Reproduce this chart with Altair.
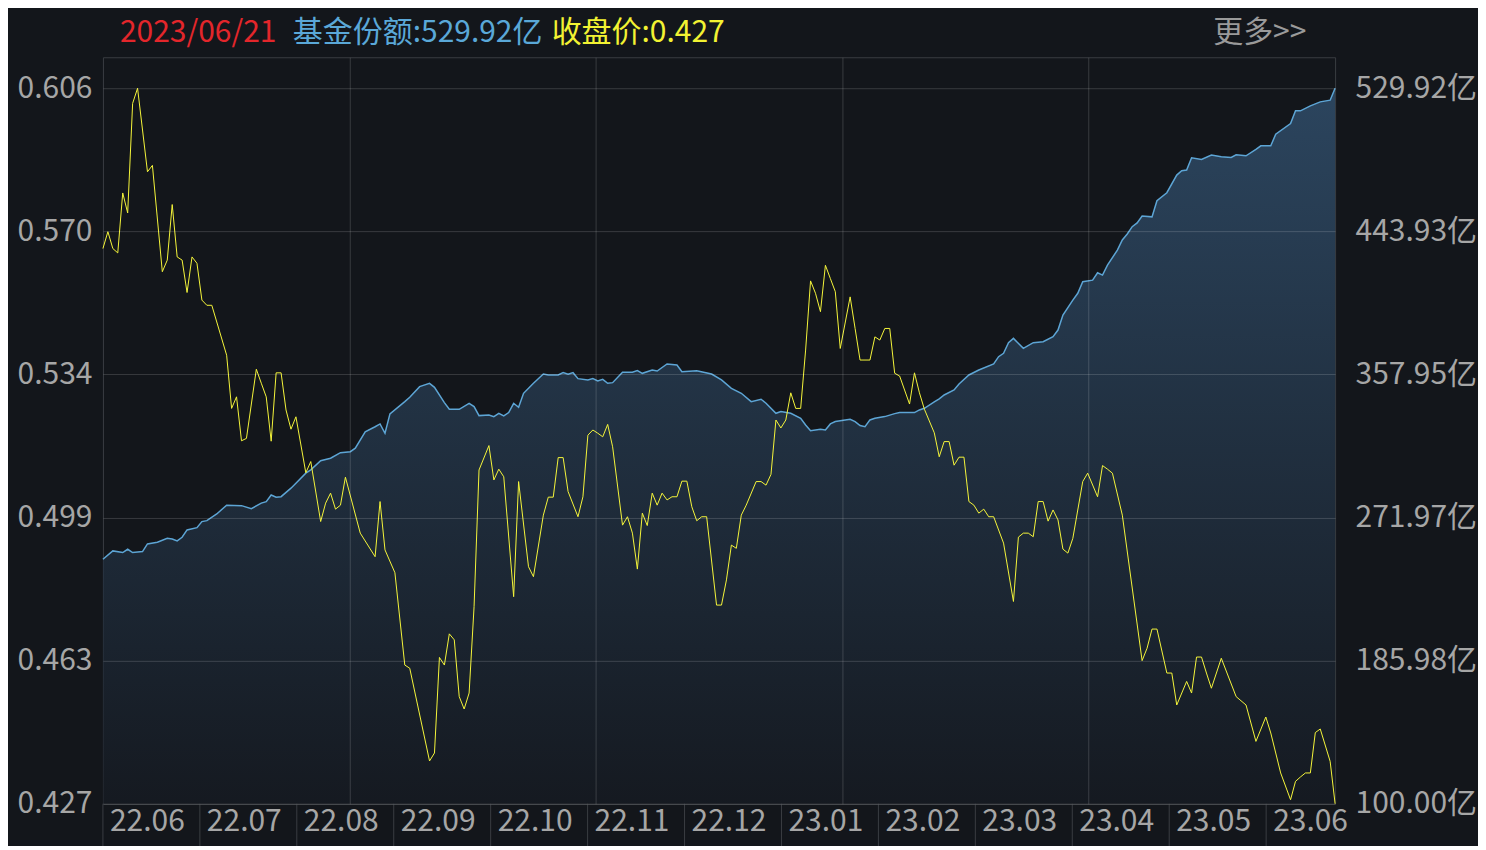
import altair as alt
import pandas as pd

# ---------------- data ----------------
price_day = [0, 1, 2, 3, 4, 5, 6, 7, 9, 10, 12, 13, 14, 15, 16, 17, 18, 19, 20, 21,
             22, 25, 26, 27, 28, 29, 31, 32, 33, 34, 35, 36, 37, 38, 39, 41, 42, 44, 45, 46,
             47, 48, 49, 52, 55, 56, 57, 59, 61, 62, 66, 67, 68, 69, 70, 71, 72, 73, 74, 75,
             76, 78, 79, 80, 81, 83, 84, 86, 87, 89, 90, 91, 92, 93, 94, 96, 97, 98, 99, 100,
             101, 102, 103, 105, 106, 107, 108, 109, 110, 111, 112, 113, 114, 115, 116, 117, 118, 119, 120, 121,
             122, 124, 125, 126, 127, 128, 129, 130, 132, 133, 134, 135, 136, 137, 138, 139, 140, 141, 142, 143,
             144, 145, 146, 147, 148, 149, 151, 152, 153, 155, 156, 157, 158, 159, 160, 161, 163, 164, 165, 166,
             168, 169, 170, 171, 172, 173, 174, 175, 176, 177, 178, 179, 180, 182, 184, 185, 186, 187, 188, 189,
             190, 191, 192, 193, 194, 195, 196, 198, 199, 201, 202, 203, 204, 206, 210, 211, 212, 213, 215, 216,
             217, 219, 220, 221, 222, 223, 224, 226, 229, 231, 233, 235, 236, 238, 240, 241, 242, 243, 244, 245,
             246, 248, 249]
price_val = [0.5659, 0.5701, 0.5659, 0.5648, 0.5798, 0.5748, 0.6022, 0.6060, 0.5851, 0.5867,
             0.5601, 0.5630, 0.5769, 0.5638, 0.5630, 0.5549, 0.5638, 0.5622, 0.5530, 0.5517,
             0.5517, 0.5392, 0.5259, 0.5288, 0.5178, 0.5184, 0.5357, 0.5322, 0.5288, 0.5177,
             0.5348, 0.5348, 0.5255, 0.5207, 0.5238, 0.5098, 0.5126, 0.4976, 0.5022, 0.5047,
             0.5007, 0.5017, 0.5087, 0.4947, 0.4888, 0.5026, 0.4905, 0.4848, 0.4617, 0.4609,
             0.4377, 0.4397, 0.4636, 0.4617, 0.4695, 0.4680, 0.4538, 0.4507, 0.4547, 0.4763,
             0.5105, 0.5166, 0.5080, 0.5107, 0.5088, 0.4788, 0.5076, 0.4863, 0.4838, 0.4992,
             0.5037, 0.5037, 0.5136, 0.5136, 0.5051, 0.4988, 0.5038, 0.5192, 0.5205, 0.5197,
             0.5188, 0.5219, 0.5163, 0.4967, 0.4988, 0.4947, 0.4857, 0.4997, 0.4966, 0.5047,
             0.5017, 0.5047, 0.5030, 0.5038, 0.5038, 0.5077, 0.5077, 0.5013, 0.4978, 0.4988,
             0.4988, 0.4767, 0.4767, 0.4830, 0.4917, 0.4909, 0.4992, 0.5017, 0.5076, 0.5076,
             0.5067, 0.5094, 0.5230, 0.5210, 0.5230, 0.5298, 0.5259, 0.5259, 0.5405, 0.5578,
             0.5547, 0.5501, 0.5617, 0.5584, 0.5551, 0.5409, 0.5538, 0.5459, 0.5380, 0.5380,
             0.5438, 0.5430, 0.5459, 0.5459, 0.5347, 0.5340, 0.5270, 0.5348, 0.5298, 0.5257,
             0.5198, 0.5138, 0.5176, 0.5176, 0.5117, 0.5137, 0.5137, 0.5026, 0.5017, 0.4997,
             0.5007, 0.4988, 0.4988, 0.4922, 0.4776, 0.4937, 0.4947, 0.4947, 0.4938, 0.5026,
             0.5026, 0.4977, 0.5005, 0.4980, 0.4907, 0.4897, 0.4934, 0.5076, 0.5097, 0.5038,
             0.5116, 0.5107, 0.5097, 0.4992, 0.4628, 0.4659, 0.4707, 0.4707, 0.4597, 0.4597,
             0.4517, 0.4576, 0.4547, 0.4637, 0.4637, 0.4597, 0.4559, 0.4634, 0.4538, 0.4517,
             0.4426, 0.4487, 0.4447, 0.4347, 0.4280, 0.4326, 0.4337, 0.4347, 0.4347, 0.4448,
             0.4457, 0.4376, 0.4270]

share_day = [0, 2, 4, 5, 6, 8, 9, 11, 13, 14, 15, 16, 17, 19, 20, 21, 23, 25, 28, 30,
             32, 33, 34, 35, 36, 38, 39, 41, 42, 44, 46, 48, 50, 51, 53, 55, 56, 57, 58, 61,
             62, 64, 66, 67, 69, 70, 72, 74, 75, 76, 78, 79, 80, 81, 82, 83, 84, 85, 87, 89,
             90, 92, 93, 94, 95, 96, 98, 99, 100, 101, 102, 103, 105, 107, 108, 109, 111, 112, 114, 116,
             117, 120, 123, 125, 127, 129, 131, 133, 134, 136, 137, 139, 141, 142, 143, 145, 146, 147, 148, 150,
             151, 152, 153, 154, 155, 156, 158, 160, 161, 164, 165, 166, 168, 169, 170, 172, 173, 175, 177, 180,
             181, 182, 183, 184, 186, 188, 190, 192, 193, 194, 196, 197, 198, 200, 201, 202, 203, 205, 206, 207,
             208, 209, 210, 212, 213, 215, 217, 218, 219, 220, 222, 224, 226, 228, 229, 231, 233, 234, 236, 237,
             240, 241, 242, 244, 246, 248, 249]
share_val = [246.9, 251.9, 250.9, 252.9, 250.9, 251.5, 256.1, 257.1, 259.5, 259.1,
             257.9, 260.1, 264.5, 265.9, 269.5, 270.1, 274.1, 279.4, 279.1, 277.3,
             280.6, 281.5, 285.5, 284.2, 284.5, 289.6, 292.6, 298.6, 300.6, 306.1,
             307.6, 310.9, 311.5, 313.6, 323.5, 326.5, 328.2, 322.6, 334.2, 341.6,
             344.2, 350.6, 352.6, 350.2, 341.0, 337.0, 337.0, 340.6, 338.6, 333.2,
             333.6, 332.6, 334.6, 333.0, 335.0, 340.6, 338.2, 346.6, 352.6, 358.2,
             357.6, 357.6, 359.0, 358.0, 359.0, 355.4, 354.6, 355.4, 354.0, 355.0,
             352.6, 353.0, 359.2, 359.2, 360.2, 358.6, 360.6, 360.0, 364.2, 363.6,
             359.6, 360.2, 358.2, 354.6, 349.6, 346.6, 341.6, 343.0, 340.6, 334.6,
             335.6, 334.6, 331.6, 327.6, 324.1, 325.0, 324.6, 328.2, 329.6, 330.6,
             331.0, 329.6, 327.2, 326.5, 330.6, 331.6, 332.6, 334.4, 335.0, 335.0,
             336.6, 337.6, 341.4, 343.2, 345.6, 348.6, 352.2, 357.6, 360.6, 364.2,
             368.6, 370.6, 377.0, 379.6, 373.6, 377.0, 377.6, 380.6, 384.6, 393.6,
             402.6, 406.7, 413.6, 414.6, 419.0, 417.6, 423.6, 432.6, 438.7, 442.3,
             446.7, 449.0, 453.1, 452.6, 462.3, 467.1, 477.7, 480.3, 480.7, 488.1,
             487.1, 489.7, 488.7, 488.3, 489.9, 489.3, 493.1, 495.3, 495.3, 502.3,
             508.7, 516.3, 516.3, 519.3, 521.7, 522.7, 529.92]

month_labels = ["22.06", "22.07", "22.08", "22.09", "22.10", "22.11", "22.12",
                "23.01", "23.02", "23.03", "23.04", "23.05", "23.06"]
price_ticks = [0.427, 0.4628, 0.4986, 0.5344, 0.5702, 0.606]
share_ticks = [100.00, 185.98, 271.97, 357.95, 443.93, 529.92]
header_texts = ["2023/06/21", "基金份额:529.92亿", "收盘价:0.427", "更多>>"]

# ---------------- layout / style ----------------
W, H = 1233, 747
FONT = "Noto Sans CJK SC"
FS = 30
BG = "#13161b"
GRID = "#3a3d42"
LABEL = "#a6a6a6"
N_DAYS = 250
header_x = [17, 190, 449, 1111]
header_colors = ["#e3262b", "#5aa8d8", "#f2f232", "#9a9a9a"]

price_df = pd.DataFrame({"day": price_day, "price": price_val})
share_df = pd.DataFrame({"day": share_day, "share": share_val})
month_df = pd.DataFrame({"i": list(range(len(month_labels))), "lab": month_labels})

x_scale = alt.Scale(domain=[0, N_DAYS - 1], nice=False, zero=False)

area = alt.Chart(share_df).mark_area(
    color=alt.Gradient(
        gradient="linear",
        stops=[alt.GradientStop(color="#36597b", offset=0),
               alt.GradientStop(color="#161b23", offset=1)],
        x1=1, x2=1, y1=0, y2=1),
    line={"color": "#5da5d5", "strokeWidth": 1.5},
).encode(
    x=alt.X("day:Q", scale=x_scale,
            axis=alt.Axis(values=[(N_DAYS - 1) * k / 5 for k in range(1, 5)], grid=True,
                          labels=False, ticks=False, domain=False, title=None,
                          gridColor="#ffffff", gridOpacity=0.16, zindex=1)),
    y=alt.Y("share:Q", scale=alt.Scale(domain=[100, 548.5], nice=False, zero=False),
            axis=alt.Axis(orient="right", values=share_ticks,
                          labelExpr="format(datum.value, '.2f') + '亿'",
                          grid=False, ticks=False, domain=False, title=None,
                          labelPadding=20, labelFlush=False)),
    y2=alt.datum(100),
)

line = alt.Chart(price_df).mark_line(color="#f5f53a", strokeWidth=1).encode(
    x=alt.X("day:Q", scale=x_scale, axis=None),
    y=alt.Y("price:Q", scale=alt.Scale(domain=[0.427, 0.61375], nice=False, zero=False),
            axis=alt.Axis(orient="left", values=price_ticks, format=".3f", grid=True,
                          gridColor="#ffffff", gridOpacity=0.16, ticks=False, domain=False,
                          title=None, labelPadding=11, labelFlush=False, zindex=1)),
)

month_x = alt.X("i:Q", scale=alt.Scale(domain=[0, len(month_labels)], range=[0, 97 * len(month_labels)]),
                axis=None)
month_rules = alt.Chart(month_df).mark_rule(color=GRID, strokeWidth=1).encode(
    x=month_x, y=alt.value(H), y2=alt.value(H + 44))
month_text = alt.Chart(month_df).mark_text(
    align="left", baseline="middle", dx=7, font=FONT, fontSize=FS, color=LABEL
).encode(x=month_x, y=alt.value(H + 18), text="lab:N")

header_layers = []
for t, hx, hc in zip(header_texts, header_x, header_colors):
    header_layers.append(
        alt.Chart(pd.DataFrame({"t": [t]})).mark_text(
            align="left", baseline="middle", font=FONT, fontSize=FS, color=hc
        ).encode(x=alt.value(hx), y=alt.value(-24), text="t:N")
    )

chart = alt.layer(area, line, month_rules, month_text, *header_layers).resolve_scale(
    x="independent", y="independent"
).properties(
    width=W, height=H,
    padding={"left": 95, "top": 49, "right": 143, "bottom": 42},
    autosize=alt.AutoSizeParams(type="none"),
    background=BG,
).configure_view(
    stroke=GRID, strokeWidth=1
).configure_axis(
    labelFont=FONT, labelFontSize=FS, labelColor=LABEL
)

chart.save("out.html", embed_options={"renderer": "svg", "actions": False})
